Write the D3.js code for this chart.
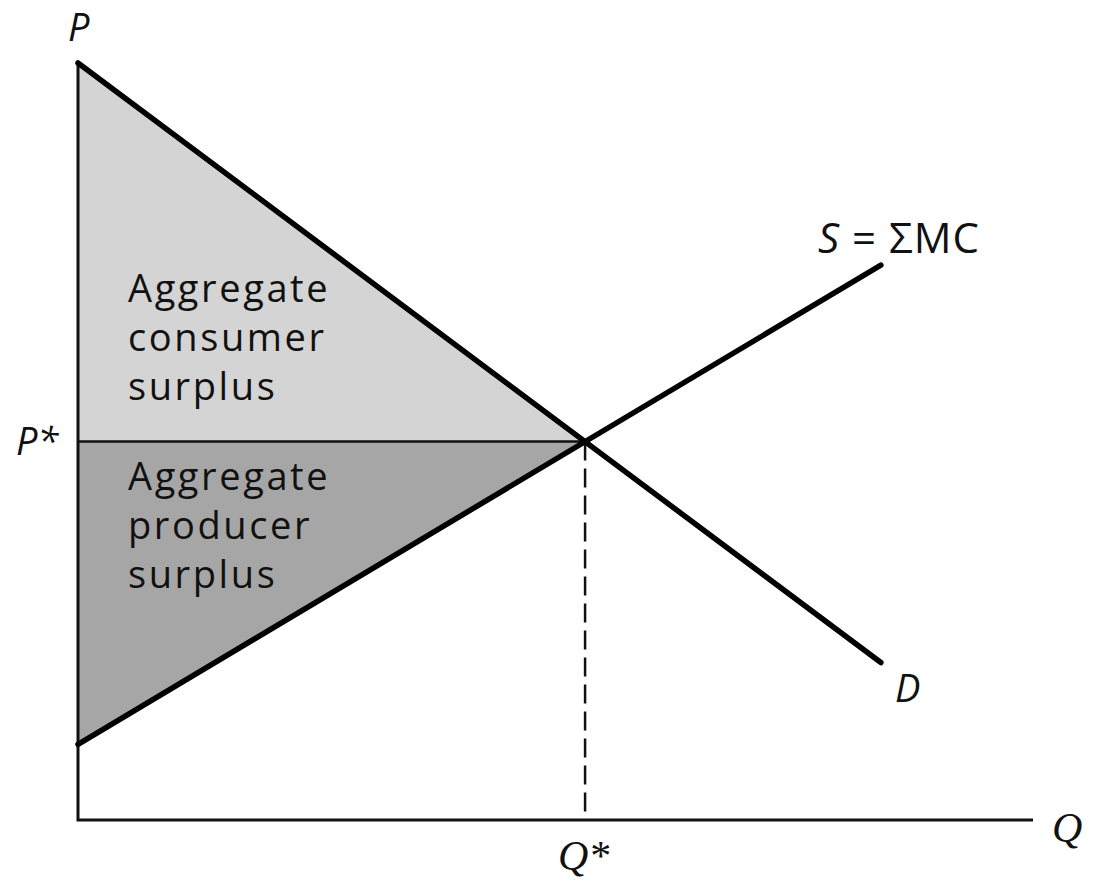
<!DOCTYPE html>
<html lang="en">
<head>
  <meta charset="UTF-8">
  <title>Aggregate Consumer and Producer Surplus</title>
  <style>
    body { margin: 0; background: #fff; }
    svg text { fill: #111; }
    .area-label { font-family: "Open Sans", "DejaVu Sans", sans-serif; font-size: 38px; letter-spacing: 2.6px; }
    .axis-label { font-family: "Open Sans", sans-serif; font-style: italic; font-size: 38px; }
  </style>
</head>
<body>
  <svg id="chart" width="1099" height="888"></svg>
  <script src="https://d3js.org/d3.v7.min.js"></script>
  <script>
    // curve endpoints (quantity, price)
    const demand = [{ q: 0, p: 10 }, { q: 9.5, p: 2.08 }];
    const supply = [{ q: 0, p: 1 }, { q: 9.5, p: 7.33 }];
    const equilibrium = { q: 6, p: 5 };
    const consumerLabel = ["Aggregate", "consumer", "surplus"];
    const producerLabel = ["Aggregate", "producer", "surplus"];

    const svg = d3.select("#chart");

    // axis origin at (78, 820)
    const x = d3.scaleLinear().domain([0, 11.3]).range([78, 1033]);
    const y = d3.scaleLinear().domain([0, 10]).range([820, 63]);

    const line = d3.line().x(d => x(d.q)).y(d => y(d.p));

    // shaded areas
    svg.append("path")
      .attr("d", line([{ q: 0, p: demand[0].p }, equilibrium, { q: 0, p: equilibrium.p }]) + "Z")
      .attr("fill", "#d4d4d4");
    svg.append("path")
      .attr("d", line([{ q: 0, p: equilibrium.p }, equilibrium, { q: 0, p: supply[0].p }]) + "Z")
      .attr("fill", "#a6a6a6");

    // P* line
    svg.append("path")
      .attr("d", line([{ q: 0, p: equilibrium.p }, equilibrium]))
      .attr("stroke", "#111").attr("stroke-width", 2.5).attr("fill", "none");

    // Q* dashed
    svg.append("path")
      .attr("d", line([equilibrium, { q: equilibrium.q, p: 0 }]))
      .attr("stroke", "#111").attr("stroke-width", 2.5).attr("fill", "none")
      .attr("stroke-dasharray", "19,8");

    // axes
    svg.append("path")
      .attr("d", line([{ q: 0, p: 10 }, { q: 0, p: 0 }, { q: 11.3, p: 0 }]))
      .attr("stroke", "#111").attr("stroke-width", 3).attr("fill", "none");

    // demand and supply
    [demand, supply].forEach(pts => {
      svg.append("path")
        .attr("d", line(pts))
        .attr("stroke", "#000").attr("stroke-width", 5.5)
        .attr("stroke-linecap", "round").attr("fill", "none");
    });

    // area labels
    function block(lines, x0, y0) {
      lines.forEach((t, i) => {
        svg.append("text").attr("class", "area-label")
          .attr("x", x0).attr("y", y0 + i * 49).text(t);
      });
    }
    block(consumerLabel, 128, 302);
    block(producerLabel, 128, 490);

    // axis labels
    svg.append("text").attr("class", "axis-label").attr("x", 68).attr("y", 41).text("P");
    svg.append("text").attr("class", "axis-label").attr("x", 16).attr("y", 455).text("P*");
    svg.append("text").attr("class", "axis-label").attr("x", 895).attr("y", 702).text("D");

    const serif = "'Liberation Serif', 'DejaVu Serif', serif";
    svg.append("text").attr("x", 1052).attr("y", 842)
      .style("font-family", serif).style("font-style", "italic").style("font-size", "42px").text("Q");
    svg.append("text").attr("x", 558).attr("y", 870)
      .style("font-family", serif).style("font-style", "italic").style("font-size", "42px").text("Q*");

    const sLabel = svg.append("text").attr("x", 818).attr("y", 253)
      .style("font-family", "'Open Sans', sans-serif").style("font-size", "42px")
      .style("letter-spacing", "1px");
    sLabel.append("tspan").style("font-style", "italic").text("S");
    sLabel.append("tspan").text(" = ΣMC");
  </script>
</body>
</html>
